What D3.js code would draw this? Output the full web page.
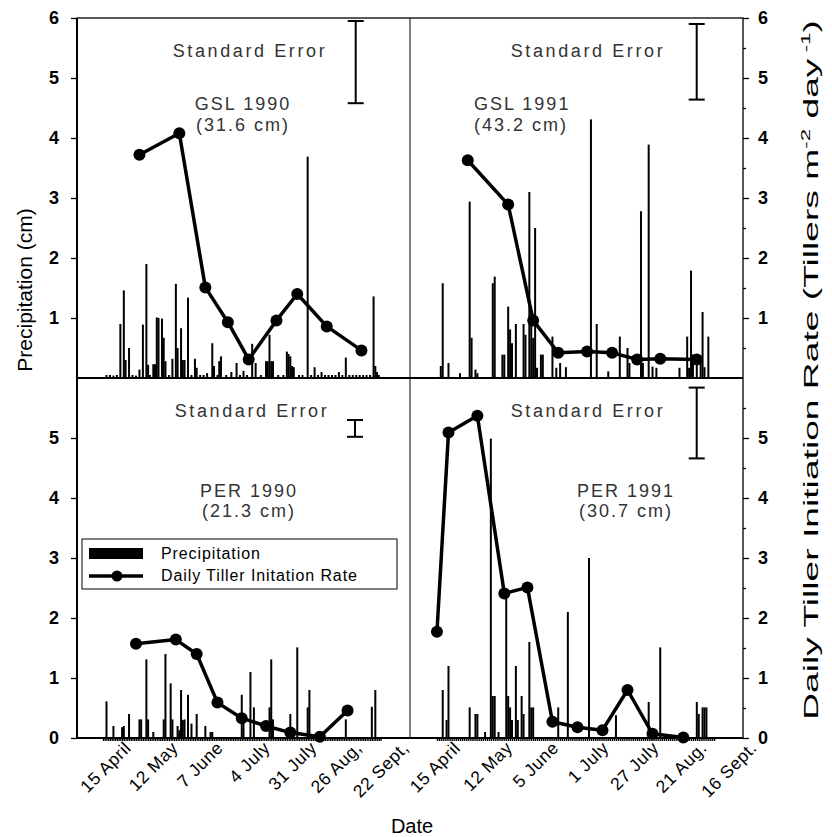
<!DOCTYPE html>
<html lang="en">
<head>
  <meta charset="UTF-8" />
  <title>Precipitation and daily tiller initiation rate</title>
  <script src="https://d3js.org/d3.v7.min.js"></script>
  <style>
    body { margin: 0; background: #fff; }
    svg { font-family: "Liberation Sans", Arial, sans-serif; }
    .axis path { display: none; }
    .axis line { stroke: #000; stroke-width: 1.3; }
    .ynum text { font-size: 18px; font-weight: bold; fill: #000; }
    .xlab text { font-size: 17.5px; letter-spacing: 0.6px; fill: #000; }
    .note { font-size: 18px; letter-spacing: 2px; fill: #333; }
    .std { letter-spacing: 2.6px; }
  </style>
</head>
<body>
  <svg width="832" height="837" id="chart"></svg>

  <script>
    // day of year -> precipitation (cm)
    const precipGSL1990 = [[91,0.05],[93,0.05],[95,0.04],[97,0.05],[99,0.90],[101,1.46],[102,0.30],[104,0.50],[106,0.05],[108,0.04],[110,0.14],[112,0.89],[114,1.90],[115,0.22],[116,0.05],[118,0.23],[119,0.23],[120,1.01],[121,1.00],[123,0.99],[124,0.67],[125,0.28],[127,0.05],[129,0.32],[131,1.57],[132,0.50],[134,0.83],[135,0.30],[136,0.30],[138,1.34],[140,0.05],[142,0.32],[143,0.17],[145,0.05],[147,0.05],[149,0.08],[152,0.58],[153,0.20],[155,0.05],[156,0.28],[157,0.36],[160,0.05],[163,0.10],[166,0.25],[168,0.05],[170,0.12],[172,0.05],[175,0.57],[177,0.25],[180,0.05],[183,0.28],[184,0.28],[185,0.72],[186,0.28],[187,0.28],[190,0.05],[193,0.05],[195,0.44],[196,0.40],[197,0.36],[198,0.20],[199,0.18],[202,0.05],[204,0.05],[207,3.69],[209,0.05],[211,0.18],[213,0.05],[215,0.10],[217,0.05],[219,0.05],[221,0.05],[223,0.05],[225,0.10],[227,0.05],[229,0.34],[231,0.05],[233,0.05],[235,0.05],[237,0.05],[239,0.05],[241,0.05],[243,0.05],[245,1.36],[246,0.20],[247,0.10],[248,0.05]];
    const precipGSL1991 = [[95,0.20],[96,1.58],[99,0.25],[105,0.08],[110,2.94],[111,0.67],[113,0.14],[114,0.08],[122,1.58],[123,1.69],[127,0.39],[128,0.39],[130,1.19],[131,0.81],[132,0.58],[134,0.90],[138,0.90],[139,0.72],[141,3.10],[142,0.94],[143,0.67],[144,2.50],[145,0.17],[147,0.39],[148,0.39],[153,0.69],[155,0.17],[157,0.25],[160,0.18],[173,4.31],[176,0.90],[182,0.11],[188,0.69],[192,0.50],[193,0.25],[199,2.78],[200,0.25],[203,3.89],[205,0.19],[207,0.17],[219,0.17],[223,0.69],[224,0.17],[225,1.79],[226,0.39],[228,0.39],[230,0.33],[231,1.10],[232,0.18],[234,0.69]];
    const precipPER1990 = [[91,0.61],[95,0.20],[100,0.18],[101,0.20],[104,0.40],[110,0.31],[111,0.31],[114,1.31],[115,0.31],[118,0.10],[124,0.31],[125,1.40],[128,0.91],[129,0.31],[132,0.20],[133,0.13],[134,0.80],[135,0.30],[136,0.31],[138,0.72],[140,0.24],[143,0.40],[148,0.20],[151,0.10],[152,0.10],[169,0.72],[170,0.31],[174,1.10],[176,0.51],[185,0.51],[186,1.31],[187,0.31],[197,0.40],[198,0.10],[201,1.51],[207,0.51],[208,0.80],[229,0.31],[244,0.52],[246,0.80]];
    const precipPER1991 = [[96,0.80],[98,0.30],[99,1.20],[110,0.51],[113,0.40],[114,0.40],[118,0.10],[121,4.99],[122,0.70],[123,0.70],[125,0.10],[129,2.35],[130,0.70],[131,0.51],[132,0.30],[134,1.20],[135,0.30],[137,0.70],[138,0.40],[141,1.60],[142,0.51],[143,0.51],[156,0.51],[161,2.10],[172,3.00],[186,0.38],[203,0.60],[204,0.10],[209,1.51],[228,0.60],[229,0.40],[231,0.51],[232,0.51],[233,0.51]];

    // day of year -> daily tiller initiation rate
    const tillerGSL1990 = [[110,3.72],[133,4.08],[148,1.51],[161,0.93],[173,0.31],[189,0.96],[201,1.40],[218,0.86],[238,0.46]];
    const tillerGSL1991 = [[109,3.63],[130,2.89],[143,0.96],[156,0.42],[171,0.44],[184,0.42],[197,0.31],[209,0.32],[228,0.31]];
    const tillerPER1990 = [[108,1.57],[131,1.64],[143,1.40],[155,0.59],[169,0.33],[183,0.20],[197,0.09],[214,0.02],[230,0.46]];
    const tillerPER1991 = [[93,1.77],[99,5.09],[114,5.37],[128,2.41],[140,2.51],[153,0.27],[166,0.18],[179,0.13],[192,0.80],[205,0.07],[221,0.01]];

    // standard error bar [low, high]
    const seGSL1990 = [4.58, 5.95];
    const seGSL1991 = [4.64, 5.90];
    const sePER1990 = [5.02, 5.30];
    const sePER1991 = [4.66, 5.84];

    const ticks1990 = [105, 132, 158, 185, 212, 238, 265];
    const labels1990 = ["15 April", "12 May", "7 June", "4 July", "31 July", "26 Aug,", "22 Sept,"];
    const ticks1991 = [105, 132, 156, 182, 208, 233, 259];
    const labels1991 = ["15 April", "12 May", "5 June", "1 July", "27 July", "21 Aug.", "16 Sept."];
    const yTicksTop = [1, 2, 3, 4, 5, 6];
    const yTicksBottom = [0, 1, 2, 3, 4, 5];
    const yMinor = [0.5, 1.5, 2.5, 3.5, 4.5, 5.5];
    const days1990 = d3.range(89, 250);
    const days1991 = d3.range(93, 238);

    const svg = d3.select("#chart");
    svg.append("rect").attr("width", 832).attr("height", 837).attr("fill", "#fff");

    const plotL = 77, plotM = 410, plotR = 743;
    const plotT = 18, plotC = 378, plotB = 738;

    const x1990 = d3.scaleLinear().domain([74, 266]).range([plotL, plotM]);
    const x1991 = d3.scaleLinear().domain([79, 252]).range([plotM, plotR]);
    const yTop = d3.scaleLinear().domain([0, 6]).range([plotC, plotT]);
    const yBot = d3.scaleLinear().domain([0, 6]).range([plotB, plotC]);

    const panels = [
      { x: x1990, y: yTop, precip: precipGSL1990, tiller: tillerGSL1990, se: seGSL1990,
        seX: 355.7, stdX: 250, name: ["GSL 1990", "(31.6 cm)"], nameX: 243, nameY: 110, anchor: "middle", gap: 21 },
      { x: x1991, y: yTop, precip: precipGSL1991, tiller: tillerGSL1991, se: seGSL1991,
        seX: 696.7, stdX: 588, name: ["GSL 1991", "(43.2 cm)"], nameX: 474, nameY: 110, anchor: "start", gap: 21 },
      { x: x1990, y: yBot, precip: precipPER1990, tiller: tillerPER1990, se: sePER1990,
        seX: 355, stdX: 252, name: ["PER 1990", "(21.3 cm)"], nameX: 249, nameY: 497, anchor: "middle", gap: 20 },
      { x: x1991, y: yBot, precip: precipPER1991, tiller: tillerPER1991, se: sePER1991,
        seX: 696.7, stdX: 588, name: ["PER 1991", "(30.7 cm)"], nameX: 626, nameY: 497, anchor: "middle", gap: 20 }
    ];

    const line = d3.line();

    panels.forEach(p => {
      const g = svg.append("g");

      g.selectAll("rect.bar")
        .data(p.precip)
        .join("rect")
        .attr("class", "bar")
        .attr("x", d => p.x(d[0]) - 1)
        .attr("width", 2)
        .attr("y", d => p.y(d[1]))
        .attr("height", d => p.y(0) - p.y(d[1]))
        .attr("fill", "#000");

      g.append("path")
        .datum(p.tiller)
        .attr("d", line.x(d => p.x(d[0])).y(d => p.y(d[1])))
        .attr("fill", "none")
        .attr("stroke", "#000")
        .attr("stroke-width", 3.5)
        .attr("stroke-linejoin", "round");

      g.selectAll("circle")
        .data(p.tiller)
        .join("circle")
        .attr("cx", d => p.x(d[0]))
        .attr("cy", d => p.y(d[1]))
        .attr("r", 6)
        .attr("fill", "#000");

      // standard error bar
      const se = g.append("g").attr("stroke", "#000").attr("stroke-width", 2);
      se.append("line").attr("x1", p.seX).attr("x2", p.seX)
        .attr("y1", p.y(p.se[0])).attr("y2", p.y(p.se[1]));
      p.se.forEach(v => {
        se.append("line").attr("x1", p.seX - 8).attr("x2", p.seX + 8)
          .attr("y1", p.y(v)).attr("y2", p.y(v));
      });

      g.append("text")
        .attr("class", "note std")
        .attr("x", p.stdX)
        .attr("y", p.y(6) + 39)
        .attr("text-anchor", "middle")
        .text("Standard Error");

      g.selectAll("text.name")
        .data(p.name)
        .join("text")
        .attr("class", "note")
        .attr("x", p.nameX)
        .attr("y", (d, i) => p.nameY + i * p.gap)
        .attr("text-anchor", p.anchor)
        .text(d => d);
    });

    // frame
    const frame = svg.append("g").attr("stroke", "#000").attr("stroke-width", 1.3).attr("fill", "none");
    frame.append("rect").attr("x", plotL).attr("y", plotT).attr("width", plotR - plotL).attr("height", plotB - plotT);
    frame.append("line").attr("x1", plotM).attr("x2", plotM).attr("y1", plotT).attr("y2", plotB).attr("stroke-width", 1);
    frame.append("line").attr("x1", plotL).attr("x2", plotR).attr("y1", plotC).attr("y2", plotC).attr("stroke-width", 2);
    frame.append("line").attr("x1", plotL).attr("x2", plotR).attr("y1", plotB).attr("y2", plotB).attr("stroke-width", 2);
    frame.append("line").attr("x1", plotL).attr("x2", plotL).attr("y1", plotT).attr("y2", plotB).attr("stroke-width", 2);

    // y axes
    const fmt = d3.format("d");
    svg.append("g").attr("class", "axis ynum").attr("transform", `translate(${plotL},0)`)
      .call(d3.axisLeft(yTop).tickValues(yTicksTop).tickFormat(fmt).tickSize(6).tickPadding(12));
    svg.append("g").attr("class", "axis ynum").attr("transform", `translate(${plotL},0)`)
      .call(d3.axisLeft(yBot).tickValues(yTicksBottom).tickFormat(fmt).tickSize(6).tickPadding(12));
    svg.append("g").attr("class", "axis ynum").attr("transform", `translate(${plotR},0)`)
      .call(d3.axisRight(yTop).tickValues(yTicksTop).tickFormat(fmt).tickSize(6).tickPadding(9));
    svg.append("g").attr("class", "axis ynum").attr("transform", `translate(${plotR},0)`)
      .call(d3.axisRight(yBot).tickValues(yTicksBottom).tickFormat(fmt).tickSize(6).tickPadding(9));
    [yTop, yBot].forEach(y => {
      svg.append("g").attr("class", "axis").attr("transform", `translate(${plotR},0)`)
        .call(d3.axisRight(y).tickValues(yMinor).tickSize(3).tickFormat(""));
    });

    // x axes
    [[x1990, ticks1990, labels1990, days1990], [x1991, ticks1991, labels1991, days1991]].forEach(([x, tv, lb, days]) => {
      svg.append("g").attr("class", "axis").attr("transform", `translate(0,${plotB})`)
        .call(d3.axisBottom(x).tickValues(days).tickSize(3).tickFormat(""))
        .selectAll("line").attr("stroke-width", 0.9);
      const ax = svg.append("g").attr("class", "axis xlab").attr("transform", `translate(0,${plotB})`)
        .call(d3.axisBottom(x).tickValues(tv).tickSize(0).tickFormat((d, i) => lb[i]));
      ax.selectAll("text")
        .attr("text-anchor", "end")
        .attr("dy", null)
        .attr("y", null)
        .attr("transform", "translate(1,11) rotate(-45)");
    });

    // titles
    svg.append("text")
      .attr("transform", "translate(32,290) rotate(-90)")
      .attr("text-anchor", "middle")
      .attr("font-size", 21)
      .text("Precipitation (cm)");

    svg.append("text")
      .attr("x", 412).attr("y", 833)
      .attr("text-anchor", "middle")
      .attr("font-size", 20)
      .text("Date");

    const rt = svg.append("text")
      .attr("text-anchor", "middle")
      .attr("font-size", 20);
    rt.append("tspan").text("Daily Tiller Initiation Rate (Tillers m");
    rt.append("tspan").attr("font-size", 12).attr("dy", -8).text("-2");
    rt.append("tspan").attr("dy", 8).text(" day");
    rt.append("tspan").attr("font-size", 12).attr("dy", -8).text(" -1");
    rt.append("tspan").attr("dy", 8).text(")");
    const natural = rt.node().getComputedTextLength();
    rt.attr("transform", `translate(818,370) rotate(-90) scale(${700 / natural},1)`);

    // legend
    const lg = svg.append("g");
    lg.append("rect").attr("x", 82).attr("y", 539).attr("width", 315).attr("height", 50)
      .attr("fill", "#fff").attr("stroke", "#000").attr("stroke-width", 1);
    lg.append("rect").attr("x", 89).attr("y", 548).attr("width", 54).attr("height", 11).attr("fill", "#000");
    lg.append("line").attr("x1", 89).attr("x2", 143).attr("y1", 576).attr("y2", 576)
      .attr("stroke", "#000").attr("stroke-width", 3.5);
    lg.append("circle").attr("cx", 117).attr("cy", 576).attr("r", 5.5).attr("fill", "#000");
    lg.selectAll("text.lg")
      .data(["Precipitation", "Daily Tiller Initation Rate"])
      .join("text")
      .attr("x", 161)
      .attr("y", (d, i) => 559 + i * 22)
      .attr("font-size", 16)
      .attr("letter-spacing", 0.9)
      .text(d => d);
  </script>
</body>
</html>
